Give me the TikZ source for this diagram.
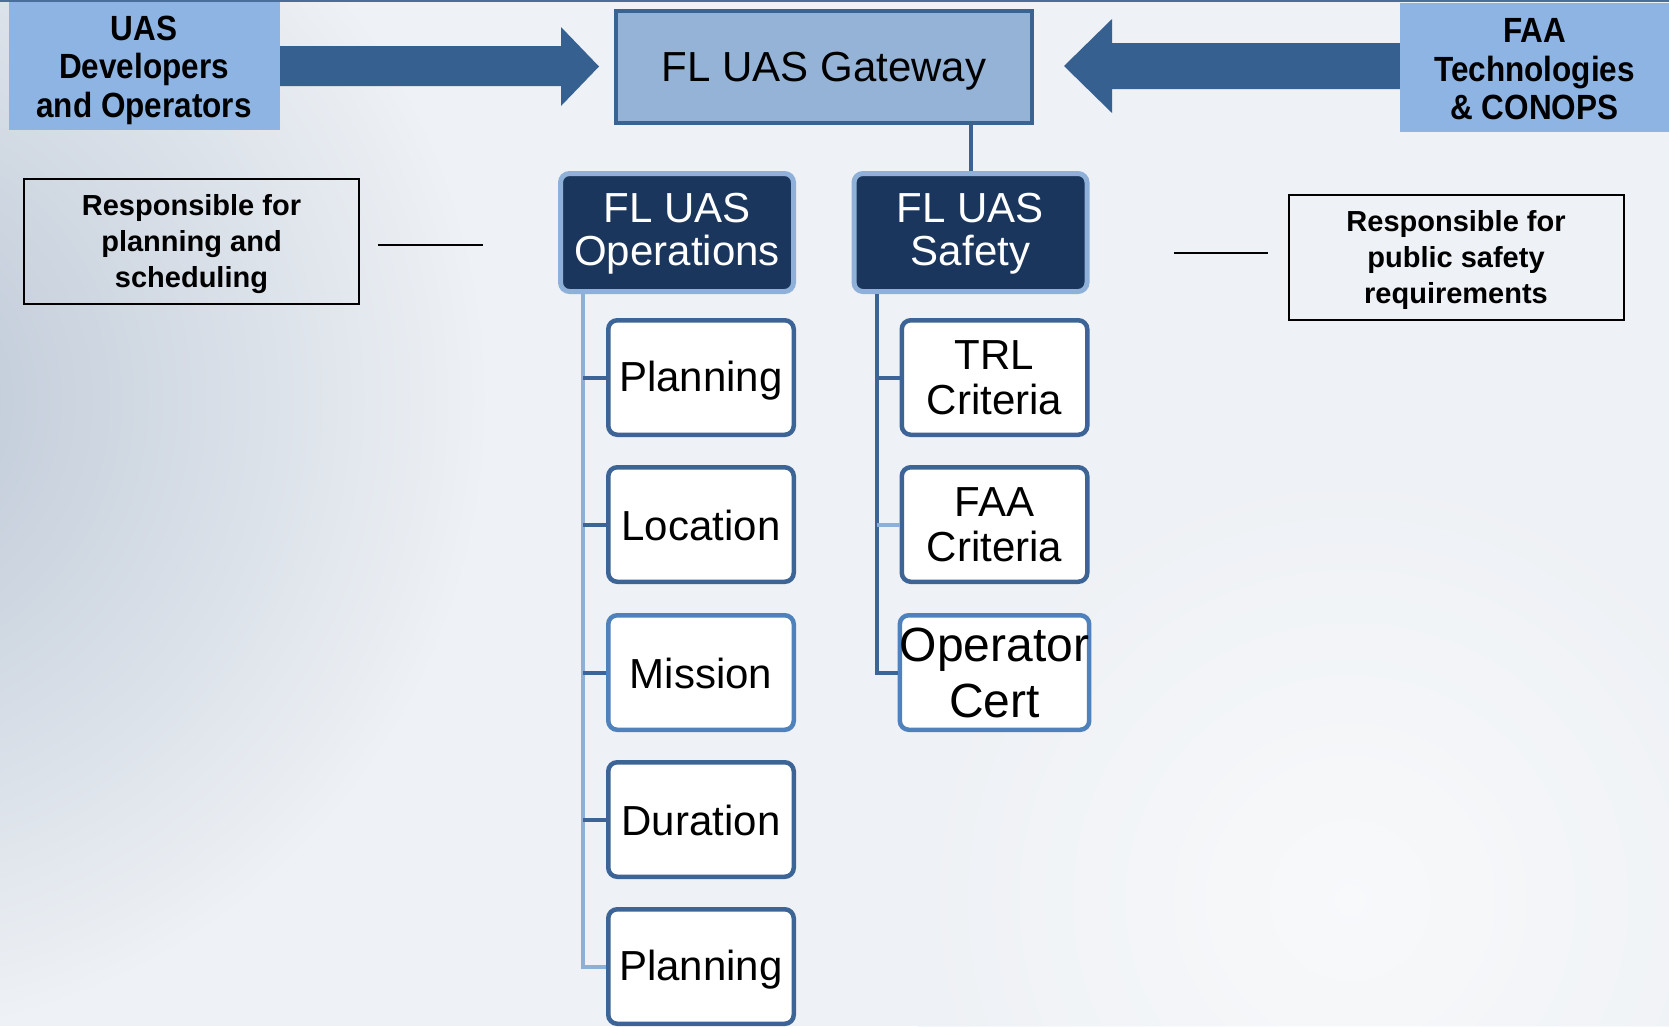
\documentclass[tikz,border=0pt]{standalone}
\usepackage{fontspec}
\setmainfont{Liberation Sans}
\newfontfamily\condb[FakeStretch=0.9]{Liberation Sans}
\usetikzlibrary{calc}
\newcommand{\lowr}[2]{\raisebox{-#1}[\height][\depth]{#2}}
\definecolor{arrowc}{HTML}{36608F}
\definecolor{srcfill}{HTML}{8DB4E2}
\definecolor{gwfill}{HTML}{95B3D7}
\definecolor{gwborder}{HTML}{3A6391}
\definecolor{navy}{HTML}{1B365D}
\definecolor{lightborder}{HTML}{8FB1D9}
\definecolor{childborder}{HTML}{3C6496}
\definecolor{childborderb}{HTML}{4F81BD}
\definecolor{trunkl}{HTML}{8DB0D9}
\definecolor{bgbase}{HTML}{EEF1F5}
\definecolor{bgdark}{HTML}{B9C5D4}
\definecolor{topline}{HTML}{4A6E9A}
\begin{document}
\begin{tikzpicture}[x=1pt,y=-1pt,
  gwbox/.style={draw=gwborder, line width=4pt, fill=gwfill, minimum width=416pt, minimum height=112pt, inner sep=0pt, font=\fontsize{42}{45}\selectfont},
  srcbox/.style={fill=srcfill, minimum width=271pt, minimum height=128pt, inner sep=0pt, align=center, font=\condb\bfseries\fontsize{35}{38.5}\selectfont},
  headbox/.style={draw=lightborder, line width=5pt, fill=navy, text=white, rounded corners=9pt, minimum width=233pt, minimum height=118pt, align=center, inner sep=0pt, font=\fontsize{42}{43.5}\selectfont},
  childbox/.style={draw=childborder, line width=4.5pt, fill=white, rounded corners=9pt, minimum width=185.5pt, minimum height=114.5pt, align=center, inner sep=0pt, font=\fontsize{42}{45}\selectfont},
  notebox/.style={draw=black, line width=2pt, minimum width=335pt, minimum height=125pt, align=center, inner sep=0pt, font=\bfseries\fontsize{29}{36}\selectfont},
  trunklight/.style={draw=trunkl, line width=4pt},
  trunkdark/.style={draw=childborder, line width=4pt},
  noteline/.style={draw=black, line width=1.5pt}]
\useasboundingbox (0,0) rectangle (1669,1026);
% background
\fill[bgbase] (0,0) rectangle (1669,1026);
\begin{scope}
\clip (0,0) rectangle (1669,1026);
\shade[inner color=bgdark, outer color=bgbase] (-150,400) circle (640);
\shade[inner color=white, outer color=bgbase, opacity=0.6] (1350,900) circle (450);
\end{scope}
\draw[topline, line width=1.5pt] (0,1) -- (1669,1);
% arrows
\fill[arrowc] (279,46) -- (561,46) -- (561,27) -- (599,66.5) -- (561,106) -- (561,86) -- (279,86) -- cycle;
\fill[arrowc] (1400,43) -- (1112,43) -- (1112,19) -- (1064,66) -- (1112,113) -- (1112,89) -- (1400,89) -- cycle;
% top nodes
\node[srcbox] (uas) at (144,66) {\lowr{5pt}{\begin{tabular}{@{}c@{}}UAS\\Developers\\and Operators\end{tabular}}};
\node[srcbox, minimum width=269pt, minimum height=129pt] (faa) at (1534.5,67.5) {\lowr{6pt}{\begin{tabular}{@{}c@{}}FAA\\Technologies\\\& CONOPS\end{tabular}}};
\node[gwbox] (gw) at (824,66.5) {\lowr{5pt}{FL UAS Gateway}};
% headers
\node[headbox] (ops) at (677,232.5) {\lowr{3pt}{\begin{tabular}{@{}c@{}}FL UAS\\[-1pt]Operations\end{tabular}}};
\node[headbox] (saf) at (970.5,232.5) {\lowr{3pt}{\begin{tabular}{@{}c@{}}FL UAS\\[-1pt]Safety\end{tabular}}};
\draw[gwborder, line width=4pt] (saf.north) -- (saf.north |- gw.south);
% children
\node[childbox] (o1) at (701,377.5) {\lowr{3pt}{Planning}};
\node[childbox] (o2) at (701,524.5) {\lowr{1pt}{Location}};
\node[childbox, draw=childborderb] (o3) at (701,672.5) {\lowr{1pt}{Mission}};
\node[childbox] (o4) at (701,819.5) {\lowr{1pt}{Duration}};
\node[childbox] (o5) at (701,966.5) {\lowr{3pt}{Planning}};
\node[childbox] (s1) at (994.5,377.5) {TRL\\Criteria};
\node[childbox] (s2) at (994.5,524.5) {FAA\\Criteria};
\node[childbox, draw=childborderb, font=\fontsize{48}{56}\selectfont] (s3) at (994.5,672.5) {Operator\\Cert};
% trunks
\coordinate (ot) at (583,294);
\coordinate (st) at (877,294);
\draw[trunklight] (ot) |- (o5.west);
\draw[trunkdark] (o1.west -| ot) -- (o1.west);
\draw[trunkdark] (o2.west -| ot) -- (o2.west);
\draw[trunkdark] (o3.west -| ot) -- (o3.west);
\draw[trunkdark] (o4.west -| ot) -- (o4.west);
\draw[trunkdark] (st) |- (s3.west);
\draw[trunkdark] (s1.west -| st) -- (s1.west);
\draw[trunklight] (s2.west -| st) -- (s2.west);
% notes
\node[notebox] (n1) at (191.5,241.5) {\lowr{3pt}{\begin{tabular}{@{}c@{}}Responsible for\\planning and\\scheduling\end{tabular}}};
\node[notebox] (n2) at (1456,257.5) {\lowr{3pt}{\begin{tabular}{@{}c@{}}Responsible for\\public safety\\requirements\end{tabular}}};
\coordinate (l1a) at (378,245);
\coordinate (l1b) at (483,245);
\coordinate (l2a) at (1174,253);
\coordinate (l2b) at (1268,253);
\draw[noteline] (l1a) -- (l1b);
\draw[noteline] (l2a) -- (l2b);
\end{tikzpicture}
\end{document}
